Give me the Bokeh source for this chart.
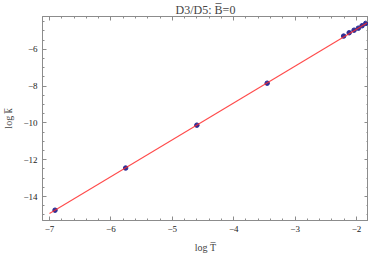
from bokeh.plotting import figure
from bokeh.models import Range1d, LinearAxis, FixedTicker
from bokeh.embed import file_html
from bokeh.resources import INLINE

# data
log_T = [-6.91, -5.76, -4.60, -3.455, -2.21, -2.12, -2.04, -1.97, -1.91, -1.85]
log_k = [-14.74, -12.45, -10.12, -7.84, -5.28, -5.10, -4.96, -4.85, -4.72, -4.59]
fit_T = [-7.0, -1.83]
fit_k = [-14.92, -4.57]

x_major = [-7, -6, -5, -4, -3, -2]
x_minor = [round(-7.2 + 0.2 * i, 2) for i in range(28)]
y_major = [-14, -12, -10, -8, -6]
y_minor = [round(-15.5 + 0.5 * i, 2) for i in range(24)]

FONT = "Liberation Serif"
FRAME = "#8c8c8c"
X0, X1 = -7.114, -1.805

p = figure(frame_width=326, frame_height=204, output_backend="svg", toolbar_location=None,
           x_range=Range1d(X0, X1), y_range=Range1d(-15.3, -4.216),
           min_border_left=0, min_border_right=0, min_border_top=0, min_border_bottom=0)
p.title.text = "D3/D5: B\u0305=0"
p.title.align = "center"
p.title.text_font = FONT
p.title.text_font_style = "normal"
p.title.text_font_size = "12px"
p.title.standoff = 0
p.title.offset = 0
p.grid.visible = False
p.outline_line_color = FRAME
p.background_fill_color = "white"
p.border_fill_color = "white"

def style(ax):
    ax.axis_line_color = FRAME
    ax.major_tick_line_color = FRAME
    ax.minor_tick_line_color = FRAME
    ax.major_tick_in = 4
    ax.major_tick_out = 0
    ax.minor_tick_in = 2
    ax.minor_tick_out = 0
    ax.major_label_text_font = FONT
    ax.major_label_text_font_size = "9px"
    ax.major_label_text_color = "#222222"
    ax.axis_label_text_font = FONT
    ax.axis_label_text_font_size = "10px"
    ax.axis_label_text_font_style = "normal"

p.xaxis.ticker = FixedTicker(ticks=x_major, minor_ticks=x_minor)
p.yaxis.ticker = FixedTicker(ticks=y_major, minor_ticks=y_minor)
p.xaxis.axis_label = "log T\u0305"
p.yaxis.axis_label = "log k\u0305"
p.xaxis.major_label_overrides = {v: "\u2212" + str(abs(v)) for v in x_major}
p.yaxis.major_label_overrides = {v: "\u2212" + str(abs(v)) for v in y_major}
style(p.xaxis[0])
style(p.yaxis[0])
p.xaxis.major_label_standoff = 5
p.yaxis.major_label_standoff = 5
p.xaxis.axis_label_standoff = 7
p.yaxis.axis_label_standoff = 6

top = LinearAxis(ticker=FixedTicker(ticks=x_major, minor_ticks=x_minor),
                 major_label_overrides={v: "" for v in x_major})
style(top)
top.major_label_standoff = 0
p.add_layout(top, "above")
right = LinearAxis(ticker=FixedTicker(ticks=y_major, minor_ticks=y_minor),
                   major_label_overrides={v: "" for v in y_major})
style(right)
right.major_label_standoff = 0
p.add_layout(right, "right")

p.scatter(log_T, log_k, size=4.5, marker="circle", fill_color="#2f2f96", line_color="#2f2f96")
p.line(fit_T, fit_k, line_color="#ff2a2a", line_width=1.1, line_alpha=0.85)

open("out.html", "w").write(file_html(p, INLINE))
